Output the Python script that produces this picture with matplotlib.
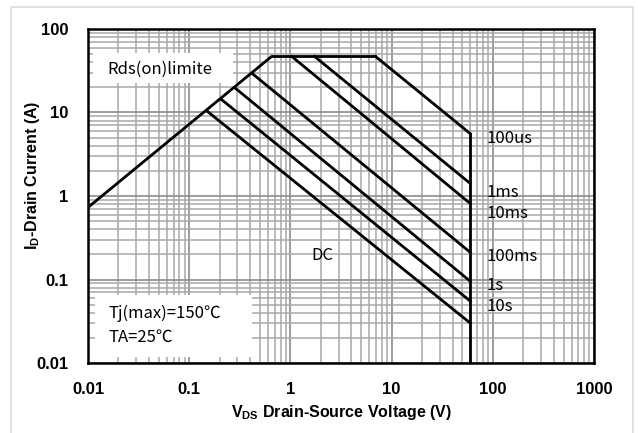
import matplotlib
matplotlib.use("Agg")
import matplotlib.pyplot as plt
from matplotlib.patches import Rectangle
from matplotlib.ticker import LogLocator, FixedLocator, FixedFormatter, NullFormatter

plt.rcParams['mathtext.fontset'] = 'custom'
plt.rcParams['mathtext.bf'] = 'Liberation Sans:bold'
plt.rcParams['mathtext.rm'] = 'Liberation Sans'

# ---- data ----
vds_max = 60.0
rds_v = [0.01, 0.653]
rds_i = [0.73, 47.0]
flat_v = [0.653, 6.92]
flat_i = [47.0, 47.0]
curve_names = ['100us', '1ms', '10ms', '100ms', '1s', '10s', 'DC']
curve_start_v = [6.92, 1.73, 1.03, 0.424, 0.282, 0.210, 0.153]
curve_start_i = [47.0, 47.0, 47.0, 29.0, 19.8, 14.2, 10.2]
curve_end_i = [5.57, 1.41, 0.81, 0.211, 0.095, 0.055, 0.030]
label_y = [4.86, 1.10, 0.618, 0.190, 0.0853, 0.048]
dc_label_pos = (1.62, 0.195)
xticks = [0.01, 0.1, 1, 10, 100, 1000]
xtick_labels = ['0.01', '0.1', '1', '10', '100', '1000']
yticks = [0.01, 0.1, 1, 10, 100]
ytick_labels = ['0.01', '0.1', '1', '10', '100']

W, H = 638, 433
fig = plt.figure(figsize=(W / 100, H / 100), dpi=100)
# light outer frame
fig.patches.append(Rectangle((11 / W, -0.05), (633 - 11) / W, 1 - 7 / H + 0.05,
                             transform=fig.transFigure, fill=False,
                             edgecolor='#dadada', linewidth=1.2))

ax = fig.add_axes([88 / W, 1 - 363 / H, (594 - 88) / W, (363 - 29) / H])
ax.set_xscale('log')
ax.set_yscale('log')
ax.set_xlim(0.01, 1000)
ax.set_ylim(0.01, 100)
ax.set_axisbelow(True)

ax.xaxis.set_major_locator(FixedLocator(xticks))
ax.xaxis.set_major_formatter(FixedFormatter(xtick_labels))
ax.yaxis.set_major_locator(FixedLocator(yticks))
ax.yaxis.set_major_formatter(FixedFormatter(ytick_labels))
ax.xaxis.set_minor_locator(LogLocator(base=10, subs=range(2, 10), numticks=20))
ax.yaxis.set_minor_locator(LogLocator(base=10, subs=range(2, 10), numticks=20))
ax.xaxis.set_minor_formatter(NullFormatter())
ax.yaxis.set_minor_formatter(NullFormatter())
ax.grid(which='major', color='#8c8c8c', linewidth=1.2)
ax.grid(which='minor', color='#a8a8a8', linewidth=1.1)
ax.tick_params(which='both', length=0)
ax.tick_params(axis='x', pad=14)
ax.tick_params(axis='y', pad=14)
for lab in ax.get_xticklabels() + ax.get_yticklabels():
    lab.set_fontfamily('Liberation Sans')
    lab.set_fontweight('bold')
    lab.set_fontsize(12)
for sp in ax.spines.values():
    sp.set_linewidth(1.8)
    sp.set_color('black')
    sp.set_zorder(5)

# white boxes behind annotation text
ax.add_patch(Rectangle((0.010, 0.838), 0.277, 0.090, transform=ax.transAxes,
                       facecolor='white', edgecolor='none', zorder=1))
ax.add_patch(Rectangle((0.014, 0.018), 0.310, 0.186, transform=ax.transAxes,
                       facecolor='white', edgecolor='none', zorder=1))

lw = 2.0
ax.plot(rds_v, rds_i, color='black', lw=lw, zorder=3, solid_capstyle='butt')
ax.plot(flat_v, flat_i, color='black', lw=lw, zorder=3)
for sv, si, ei in zip(curve_start_v, curve_start_i, curve_end_i):
    ax.plot([sv, vds_max], [si, ei], color='black', lw=lw, zorder=3)
ax.plot([vds_max, vds_max], [curve_end_i[0], 0.01], color='black', lw=lw, zorder=3)

cjk = ['Noto Sans CJK SC', 'DejaVu Sans']
fs = 12
for name, yy in zip(curve_names[:-1], label_y):
    ax.text(86.0, yy, name, family=cjk, fontsize=fs, va='center', ha='left', zorder=4)
ax.text(dc_label_pos[0], dc_label_pos[1], 'DC', family=cjk, fontsize=fs,
        fontweight='medium', va='center', ha='left', zorder=4)
ax.text(0.0154, 33.3, 'Rds(on)limite', family=cjk, fontsize=fs, va='center', ha='left', zorder=4)
ax.text(0.0158, 0.0395, 'Tj(max)=150\u2103', family=cjk, fontsize=fs, va='center', ha='left', zorder=4)
ax.text(0.0158, 0.0204, 'TA=25\u2103', family=cjk, fontsize=fs, va='center', ha='left', zorder=4)

fig.text(341 / W, 1 - 413 / H, r'$\mathbf{V_{DS}}$ Drain-Source Voltage (V)',
         family='Liberation Sans', fontweight='bold', fontsize=11.5, ha='center', va='center')
fig.text(33 / W, 1 - 175 / H, r'$\mathbf{I_{D}}$-Drain Current (A)',
         family='Liberation Sans', fontweight='bold', fontsize=11.5, ha='center', va='center',
         rotation=90)

fig.savefig('out.png', dpi=100)
